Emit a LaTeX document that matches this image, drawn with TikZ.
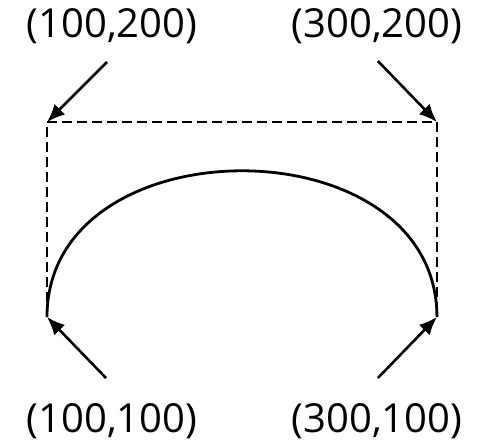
\documentclass[tikz,border=0pt]{standalone}
\usepackage{fontspec}
\setmainfont{Open Sans}
\usetikzlibrary{arrows.meta}

\begin{document}
\begin{tikzpicture}[x=1.95pt,y=1.95pt,
  lbl/.style={font=\fontsize{40}{40}\selectfont, inner sep=0pt},
  pointer/.style={line width=2.6pt, -{Latex[length=18pt,width=15pt]}},
  hull/.style={line width=2.8pt, dash pattern=on 10pt off 5pt}]
\useasboundingbox (75.9,34.9) rectangle (322.6,262.6);
%points de controle
\coordinate (p0) at (100,100);
\coordinate (c1) at (100,200);
\coordinate (c2) at (300,200);
\coordinate (p1) at (300,100);

\draw[hull] (p0) -- (c1) -- (c2) -- (p1);
\draw[line width=2.8pt] (p0) .. controls (c1) and (c2) .. (p1);

%etiquettes
\node[lbl] (tl) at (133.3,249.2) {(100,200)};
\node[lbl] (tr) at (269.2,249.2) {(300,200)};
\node[lbl] (bl) at (133.3,46.7) {(100,100)};
\node[lbl] (br) at (269.2,46.7) {(300,100)};

\coordinate (atl) at (130.8,230.8);
\coordinate (atr) at (269.7,231.3);
\coordinate (abl) at (130.3,68.7);
\coordinate (abr) at (269.7,68.7);

\draw[pointer] (atl) -- (c1);
\draw[pointer] (atr) -- (c2);
\draw[pointer] (abl) -- (p0);
\draw[pointer] (abr) -- (p1);
\end{tikzpicture}
\end{document}
